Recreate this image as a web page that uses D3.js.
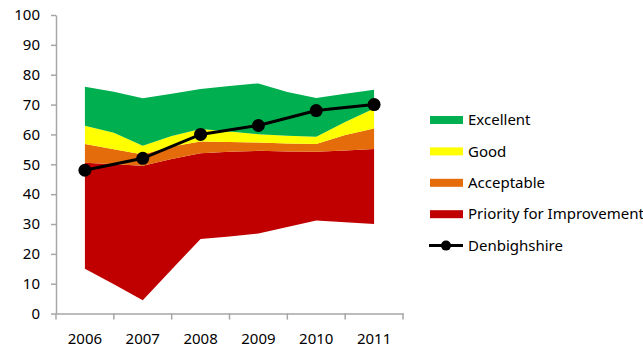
<!DOCTYPE html>
<html>
<head>
<meta charset="utf-8">
<script src="https://cdn.jsdelivr.net/npm/d3@7"></script>
<style>
  html, body { margin: 0; padding: 0; background: #fff; }
  svg { display: block; }
  text { font-family: "Noto Sans", "Open Sans", sans-serif; fill: #000; }
</style>
</head>
<body>
<svg id="chart" width="643" height="352"></svg>
<script>
// Years shown on the category axis
const years = [2006, 2007, 2008, 2009, 2010, 2011];

// Band boundaries sampled every half year, 2006 to 2011
const bandX = [2006, 2006.5, 2007, 2007.5, 2008, 2008.5, 2009, 2009.5, 2010, 2010.5, 2011];
const priorityLow  = [15, 9.8, 4.5, 14.8, 25, 25.8, 26.8, 29, 31.2, 30.6, 30];
const priorityHigh = [50.5, 50, 49.5, 51.8, 53.7, 54.2, 54.5, 54.3, 54.2, 54.6, 55.1];
const acceptableHigh = [56.8, 55, 53.3, 56, 57.6, 57.5, 57.3, 57, 56.8, 59.8, 62];
const goodHigh = [62.9, 60.6, 56.2, 59.5, 61.8, 61, 60.1, 59.6, 59.2, 64.2, 68.7];
const excellentHigh = [76, 74.3, 72.1, 73.6, 75.2, 76.2, 77.1, 74.2, 72.2, 73.6, 75];

// Denbighshire yearly values
const denbighshire = [48, 52, 60, 63, 68, 70];

const yTicks = [0, 10, 20, 30, 40, 50, 60, 70, 80, 90, 100];

const bands = [
  { name: "Priority for Improvement", color: "#C00000", lo: priorityLow, hi: priorityHigh },
  { name: "Acceptable", color: "#E46C0A", lo: priorityHigh, hi: acceptableHigh },
  { name: "Good", color: "#FFFF00", lo: acceptableHigh, hi: goodHigh },
  { name: "Excellent", color: "#00B050", lo: goodHigh, hi: excellentHigh }
];

const FONT = "Noto Sans, Open Sans, sans-serif";
const svg = d3.select("#chart");
const plotLeft = 56, plotRight = 403, plotTop = 15, plotBottom = 313.6;

const xBand = d3.scaleBand().domain(years).range([plotLeft, plotRight]).padding(0);
const center = yr => xBand(yr) + xBand.bandwidth() / 2;
const x = d3.scaleLinear().domain([2006, 2011]).range([center(2006), center(2011)]);
const y = d3.scaleLinear().domain([0, 100]).range([plotBottom, plotTop]);

// Filled bands
bands.forEach(b => {
  const pts = bandX.map((t, i) => ({ t, lo: b.lo[i], hi: b.hi[i] }));
  svg.append("path")
    .datum(pts)
    .attr("fill", b.color)
    .attr("d", d3.area().x(d => x(d.t)).y0(d => y(d.lo)).y1(d => y(d.hi)));
});

// Y axis
const yAxis = svg.append("g")
  .attr("transform", `translate(${plotLeft},0)`)
  .call(d3.axisLeft(y).tickValues(yTicks).tickSize(5).tickPadding(11).tickSizeOuter(0));
yAxis.select(".domain").attr("stroke", "#a6a6a6").attr("stroke-width", 1.5);
yAxis.selectAll(".tick line").attr("stroke", "#a6a6a6").attr("stroke-width", 1.5);
yAxis.selectAll(".tick text").attr("font-size", 15).attr("font-family", FONT).attr("fill", "#000");

// X axis: labels centered in each category, ticks at category boundaries
const xAxis = svg.append("g")
  .attr("transform", `translate(0,${plotBottom})`)
  .call(d3.axisBottom(xBand).tickSize(0).tickPadding(20).tickSizeOuter(0));
xAxis.select(".domain").attr("stroke", "#a6a6a6").attr("stroke-width", 1.5);
xAxis.selectAll(".tick text").attr("font-size", 15).attr("font-family", FONT).attr("fill", "#000");
const bounds = years.map(yr => xBand(yr)).concat([xBand(2011) + xBand.bandwidth()]);
xAxis.selectAll("line.bound")
  .data(bounds)
  .enter().append("line")
  .attr("class", "bound")
  .attr("x1", d => d).attr("x2", d => d)
  .attr("y1", 0).attr("y2", 6)
  .attr("stroke", "#a6a6a6").attr("stroke-width", 1.5);

// Denbighshire line with markers
const linePts = years.map((yr, i) => ({ yr, v: denbighshire[i] }));
svg.append("path")
  .datum(linePts)
  .attr("fill", "none")
  .attr("stroke", "#000")
  .attr("stroke-width", 3)
  .attr("d", d3.line().x(d => center(d.yr)).y(d => y(d.v)));
svg.selectAll("circle.pt")
  .data(linePts)
  .enter().append("circle")
  .attr("class", "pt")
  .attr("cx", d => center(d.yr))
  .attr("cy", d => y(d.v))
  .attr("r", 6.5)
  .attr("fill", "#000");

// Legend
const legendItems = [
  { name: "Excellent", color: "#00B050" },
  { name: "Good", color: "#FFFF00" },
  { name: "Acceptable", color: "#E46C0A" },
  { name: "Priority for Improvement", color: "#C00000" },
  { name: "Denbighshire", line: true }
];
const legend = svg.append("g");
legendItems.forEach((it, i) => {
  const cy = 120 + i * 31.4;
  if (it.line) {
    legend.append("line")
      .attr("x1", 429).attr("x2", 463).attr("y1", cy).attr("y2", cy)
      .attr("stroke", "#000").attr("stroke-width", 3);
    legend.append("circle").attr("cx", 446).attr("cy", cy).attr("r", 5).attr("fill", "#000");
  } else {
    legend.append("rect")
      .attr("x", 430).attr("y", cy - 4).attr("width", 33).attr("height", 8)
      .attr("fill", it.color);
  }
  legend.append("text")
    .attr("x", 468).attr("y", cy)
    .attr("dy", "0.35em")
    .attr("font-size", 15)
    .attr("font-family", FONT)
    .text(it.name);
});
</script>
</body>
</html>
